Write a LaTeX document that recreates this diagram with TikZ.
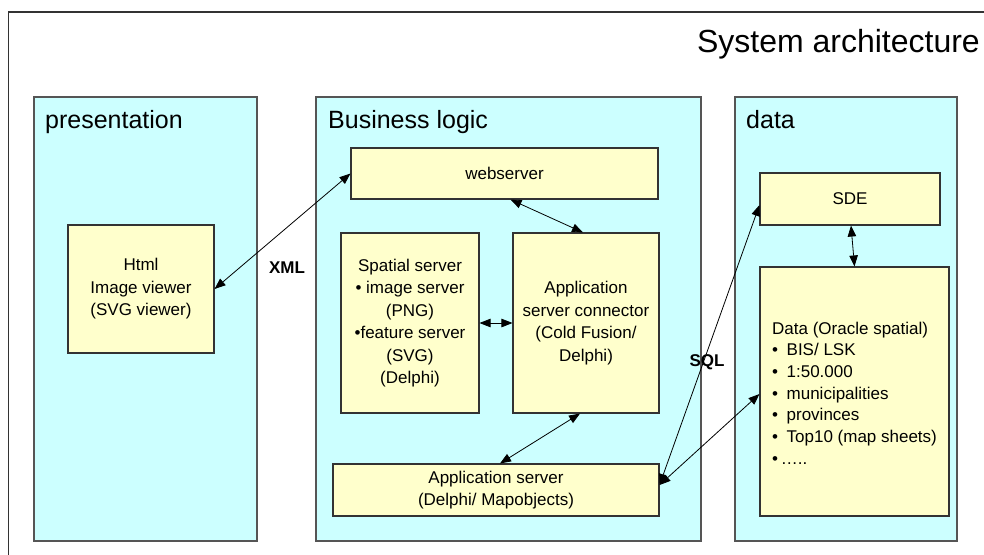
\documentclass[tikz,border=0pt]{standalone}
\usepackage{fontspec}
\setmainfont{Liberation Sans}
\usetikzlibrary{arrows.meta}
\definecolor{panelfill}{HTML}{CCFFFF}
\definecolor{boxfill}{HTML}{FFFFCC}
\definecolor{panelline}{HTML}{555555}
\definecolor{boxline}{HTML}{333333}
\begin{document}
\begin{tikzpicture}[x=1pt,y=-1pt,
  >={Triangle[length=11pt,width=8.5pt]},
  panel/.style={fill=panelfill,draw=panelline,line width=1.1pt},
  paneltitle/.style={anchor=base west,font=\fontsize{25}{30}\selectfont,inner sep=0pt},
  box/.style={fill=boxfill,draw=boxline,line width=1.1pt,inner sep=0pt,align=center,
    font=\fontsize{17}{22.5}\selectfont},
  dbl/.style={<->,line width=0.8pt,black},
  lbl/.style={font=\fontsize{17}{20}\bfseries\selectfont,inner sep=0pt}]
\useasboundingbox (0,0) rectangle (984,554);
\fill[white] (0,0) rectangle (984,554);
% outer frame
\draw[line width=1.1pt,color=boxline] (8.5,600) -- (8.5,12) -- (1000,12);
\node[anchor=base east,font=\fontsize{32}{38}\selectfont,inner sep=0pt] (title) at (980,52) {System architecture};
% panels
\draw[panel] (34,97) rectangle (257,541);
\draw[panel] (316,97) rectangle (701,541);
\draw[panel] (735,97) rectangle (957,541);
\node[paneltitle] (tpres) at (45,128) {presentation};
\node[paneltitle] (tbus) at (328,128) {Business logic};
\node[paneltitle] (tdata) at (746,128) {data};
% boxes
\node[box,minimum width=146,minimum height=128] (html) at (141,289) {Html\\Image viewer\\(SVG viewer)};
\node[box,minimum width=307,minimum height=51] (web) at (504.5,173.5) {webserver};
\node[box,minimum width=138,minimum height=180] (spatial) at (410,323)
  {Spatial server\\• image server\\(PNG)\\•feature server\\(SVG)\\(Delphi)};
\node[box,minimum width=146,minimum height=180] (conn) at (586,323)
  {Application\\server connector\\(Cold Fusion/\\Delphi)};
\node[box,minimum width=326,minimum height=52] (app) at (496,490)
  {Application server\\(Delphi/ Mapobjects)};
\node[box,minimum width=180,minimum height=52] (sde) at (850,199) {SDE};
\node[box,minimum width=189,minimum height=249] (data) at (854.5,391.5) {};
\node[anchor=west,align=left,inner sep=0pt,font=\fontsize{17}{21.7}\selectfont] (datatext) at (772,393)
  {Data (Oracle spatial)\\•\enspace BIS/ LSK\\•\enspace 1:50.000\\•\enspace municipalities\\•\enspace provinces\\•\enspace Top10 (map sheets)\\•\,…..};
% connectors
\draw[dbl] (html.east) -- (web.west);
\draw[dbl] ([xshift=6pt]web.south) -- ([xshift=-3pt]conn.north);
\draw[dbl] (spatial.east) -- (conn.west);
\draw[dbl] ([xshift=-6pt]conn.south) -- ([xshift=4pt]app.north);
\draw[dbl] ([xshift=1pt]sde.south) -- (data.north);
\draw[dbl] ([yshift=5pt]app.east) -- ([yshift=-6pt]sde.west);
\draw[dbl] ([yshift=5pt]app.east) -- ([yshift=-2.5pt]data.west);
% labels
\node[lbl] (xml) at (287,268) {XML};
\node[lbl] (sql) at (707,362) {SQL};
\end{tikzpicture}
\end{document}
